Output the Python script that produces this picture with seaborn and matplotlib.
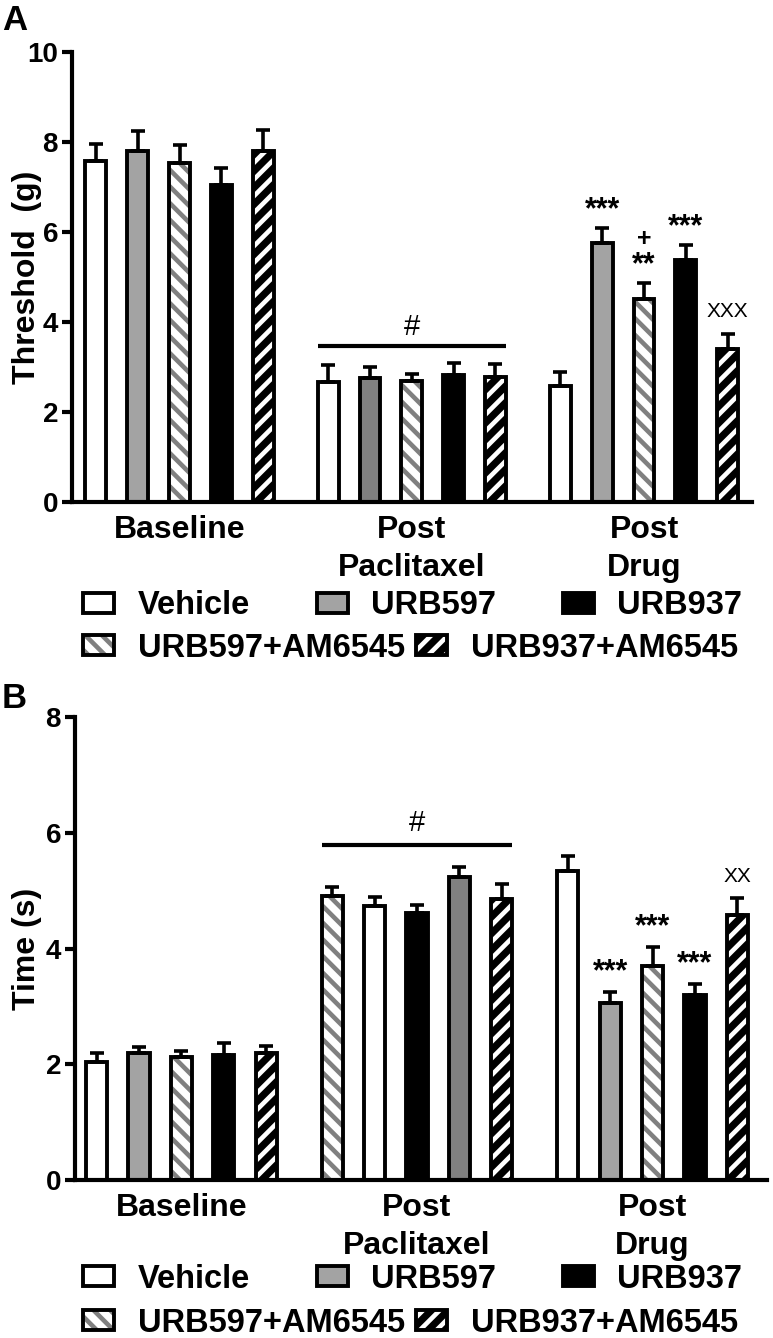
import matplotlib
matplotlib.use("Agg")
import matplotlib.pyplot as plt
from matplotlib.patches import Patch
from matplotlib.colors import to_rgba
import numpy as np
import pandas as pd
import seaborn as sns

# ------------------------------------------------------------------ data
phases = ["Baseline", "Post\nPaclitaxel", "Post\nDrug"]
slots = ["s0", "s1", "s2", "s3", "s4"]
treatments = ["Vehicle", "URB597", "URB597+AM6545", "URB937", "URB937+AM6545"]

# Panel A : mechanical threshold (g)
a_order_baseline = ["Vehicle", "URB597", "URB597+AM6545", "URB937", "URB937+AM6545"]
a_order_pac = ["Vehicle", "URB597", "URB597+AM6545", "URB937", "URB937+AM6545"]
a_order_drug = ["Vehicle", "URB597", "URB597+AM6545", "URB937", "URB937+AM6545"]
a_mean_baseline = [7.58, 7.80, 7.53, 7.04, 7.80]
a_sem_baseline = [0.38, 0.45, 0.41, 0.39, 0.46]
a_mean_pac = [2.66, 2.76, 2.68, 2.83, 2.78]
a_sem_pac = [0.38, 0.24, 0.17, 0.27, 0.28]
a_mean_drug = [2.57, 5.76, 4.51, 5.38, 3.40]
a_sem_drug = [0.31, 0.33, 0.35, 0.34, 0.33]
a_stars_drug = ["", "***", "**", "***", ""]
a_plus_drug = ["", "", "+", "", ""]
a_x_drug = ["", "", "", "", "XXX"]
a_hash_y = 3.47

# Panel B : latency time (s)
b_order_baseline = ["Vehicle", "URB597", "URB597+AM6545", "URB937", "URB937+AM6545"]
b_order_pac = ["URB597+AM6545", "Vehicle", "URB937", "URB597", "URB937+AM6545"]
b_order_drug = ["Vehicle", "URB597", "URB597+AM6545", "URB937", "URB937+AM6545"]
b_mean_baseline = [2.04, 2.20, 2.13, 2.16, 2.20]
b_sem_baseline = [0.16, 0.10, 0.10, 0.20, 0.12]
b_mean_pac = [4.91, 4.73, 4.61, 5.24, 4.86]
b_sem_pac = [0.16, 0.16, 0.15, 0.16, 0.26]
b_mean_drug = [5.34, 3.06, 3.70, 3.19, 4.58]
b_sem_drug = [0.26, 0.18, 0.32, 0.19, 0.29]
b_stars_drug = ["", "***", "***", "***", ""]
b_plus_drug = ["", "", "", "", ""]
b_x_drug = ["", "", "", "", "XX"]
b_hash_y = 5.79

urb597_gray = ["#a3a3a3", "#808080", "#a3a3a3"]

# ------------------------------------------------------------------ style
sns.set_theme(style="ticks")
plt.rcParams["font.family"] = ["Liberation Sans", "DejaVu Sans"]
plt.rcParams["font.weight"] = "bold"
plt.rcParams["hatch.linewidth"] = 3.3
for key in ["text.color", "axes.labelcolor", "xtick.color", "ytick.color",
            "axes.edgecolor"]:
    plt.rcParams[key] = "black"

EDGE_LW = 2.8


def set_hatch_color(p, color):
    if hasattr(p, "set_hatchcolor"):
        p.set_hatchcolor(color)
    else:
        p._hatch_color = to_rgba(color)


def style_patch(p, treatment, gray):
    p.set_edgecolor("black")
    p.set_linewidth(EDGE_LW)
    if treatment == "Vehicle":
        p.set_facecolor("white")
        p.set_hatch(None)
    elif treatment == "URB597":
        p.set_facecolor(gray)
        p.set_hatch(None)
    elif treatment == "URB937":
        p.set_facecolor("black")
        p.set_hatch(None)
    elif treatment == "URB597+AM6545":
        p.set_facecolor("white")
        p.set_hatch("\\\\")
        set_hatch_color(p, "#808080")
    elif treatment == "URB937+AM6545":
        p.set_facecolor("black")
        p.set_hatch("//")
        set_hatch_color(p, "white")


def build(orders, means, sems):
    rows = []
    for p, (order, m, s) in enumerate(zip(orders, means, sems)):
        for k, (t, mv, sv) in enumerate(zip(order, m, s)):
            rows.append(dict(phase=phases[p], slot=slots[k], treatment=t, mean=mv, sem=sv))
    return pd.DataFrame(rows)


def draw_panel(ax, df, ylim, yticks, ylabel, label_x, xlim, hash_y, stars,
               plus, xs, star_off, plus_off, x_off, hash_off):
    width, gap = 0.9, 0.5
    sns.barplot(data=df, x="phase", y="mean", hue="slot", order=phases,
                hue_order=slots, palette=["white"] * 5, width=width, gap=gap,
                errorbar=None, saturation=1, edgecolor="black",
                linewidth=EDGE_LW, legend=False, ax=ax)
    lookup = {(r.phase, r.slot): r for r in df.itertuples()}
    step = width / len(slots)
    info = {}
    for cont in ax.containers:
        for bar in cont:
            cx = bar.get_x() + bar.get_width() / 2
            p = int(round(cx))
            k = int(round((cx - p) / step + (len(slots) - 1) / 2))
            r = lookup[(phases[p], slots[k])]
            style_patch(bar, r.treatment, urb597_gray[p])
            info[(p, k)] = (cx, bar.get_x(), bar.get_width(), r.mean, r.sem)

    keys = sorted(info)
    cxs = np.array([info[k][0] for k in keys])
    ms = np.array([info[k][3] for k in keys])
    ss = np.array([info[k][4] for k in keys])
    ax.errorbar(cxs, ms, yerr=[np.zeros_like(ss), ss], fmt="none",
                ecolor="black", elinewidth=2.6, capsize=5.3, capthick=2.6,
                zorder=3)

    # significance line over the post paclitaxel group
    g = [info[(1, k)] for k in range(len(slots))]
    x0 = min(v[1] for v in g)
    x1 = max(v[1] + v[2] for v in g)
    ax.plot([x0, x1], [hash_y, hash_y], color="black", lw=3.0,
            solid_capstyle="butt", zorder=3)
    ax.annotate("#", xy=((x0 + x1) / 2, hash_y), xytext=(0, hash_off),
                textcoords="offset points", ha="center", va="baseline",
                fontsize=21, fontweight="normal")

    # markers over the post drug group
    for k in range(len(slots)):
        cx, _, _, m, s = info[(2, k)]
        top = m + s
        if stars[k]:
            ax.annotate(stars[k], xy=(cx, top), xytext=(0, star_off),
                        textcoords="offset points", ha="center",
                        va="baseline", fontsize=22, fontweight="bold")
        if plus[k]:
            ax.annotate(plus[k], xy=(cx, top), xytext=(0, plus_off),
                        textcoords="offset points", ha="center",
                        va="baseline", fontsize=18, fontweight="bold")
        if xs[k]:
            ax.annotate(xs[k], xy=(cx, top), xytext=(0, x_off),
                        textcoords="offset points", ha="center",
                        va="baseline", fontsize=15, fontweight="normal")

    ax.set_xlim(*xlim)
    ax.set_ylim(*ylim)
    ax.set_yticks(yticks)
    ax.set_yticklabels([str(t) for t in yticks])
    ax.set_xlabel("")
    ax.set_ylabel(ylabel, fontsize=23, fontweight="bold", color="black")
    ax.yaxis.set_label_coords(label_x, 0.5)
    for side in ["top", "right"]:
        ax.spines[side].set_visible(False)
    for side in ["left", "bottom"]:
        ax.spines[side].set_linewidth(3.0)
        ax.spines[side].set_color("black")
    ax.tick_params(axis="y", direction="out", length=7, width=3.0,
                   labelsize=20, pad=3, colors="black")
    ax.tick_params(axis="x", length=0, labelsize=23, pad=9, colors="black")
    for lbl in ax.get_xticklabels():
        lbl.set_fontweight("bold")
        lbl.set_linespacing(1.36)
    for lbl in ax.get_yticklabels():
        lbl.set_fontweight("bold")
    ax.set_facecolor("white")
    ax.grid(False)


def make_handle(t):
    p = Patch(facecolor="white", edgecolor="black", linewidth=EDGE_LW)
    style_patch(p, t, urb597_gray[0])
    return p


def add_legend(fig, x_px, y1_px, y2_px, W, H):
    row1 = ["Vehicle", "URB597", "URB937"]
    row2 = ["URB597+AM6545", "URB937+AM6545"]
    common = dict(loc="center left", frameon=False, handlelength=0.95,
                  handleheight=0.55, handletextpad=0.72, borderpad=0,
                  borderaxespad=0, labelcolor="black",
                  prop={"weight": "bold", "size": 23.5})
    fig.legend(handles=[make_handle(t) for t in row1], labels=row1,
               ncol=3, columnspacing=2.05,
               bbox_to_anchor=(x_px / W, 1 - y1_px / H), **common)
    fig.legend(handles=[make_handle(t) for t in row2], labels=row2,
               ncol=2, columnspacing=0.35,
               bbox_to_anchor=(x_px / W, 1 - y2_px / H), **common)


# ------------------------------------------------------------------ figure
W, H = 773, 1338
fig = plt.figure(figsize=(W / 100, H / 100), dpi=100)
fig.patch.set_facecolor("white")

dfA = build([a_order_baseline, a_order_pac, a_order_drug],
            [a_mean_baseline, a_mean_pac, a_mean_drug],
            [a_sem_baseline, a_sem_pac, a_sem_drug])
dfB = build([b_order_baseline, b_order_pac, b_order_drug],
            [b_mean_baseline, b_mean_pac, b_mean_drug],
            [b_sem_baseline, b_sem_pac, b_sem_drug])

axA = fig.add_axes([72 / W, 1 - 502 / H, 680 / W, 450 / H])
draw_panel(axA, dfA, (0, 10), [0, 2, 4, 6, 8, 10], "Threshold  (g)",
           (42 - 72) / 680, (-0.463, 2.465), a_hash_y, a_stars_drug,
           a_plus_drug, a_x_drug, star_off=7.0, plus_off=27, x_off=12.5,
           hash_off=8)

axB = fig.add_axes([75 / W, 1 - 1180 / H, 692 / W, 463 / H])
draw_panel(axB, dfB, (0, 8), [0, 2, 4, 6, 8], "Time (s)",
           (42 - 75) / 692, (-0.452, 2.486), b_hash_y, b_stars_drug,
           b_plus_drug, b_x_drug, star_off=9.0, plus_off=27, x_off=11.5,
           hash_off=10)

add_legend(fig, 83, 606, 648, W, H)
add_legend(fig, 83, 1279, 1323, W, H)

fig.text(2 / W, 1 - 30 / H, "A", fontsize=25, fontweight="bold",
         ha="left", va="baseline", color="black")
fig.text(2 / W, 1 - 708 / H, "B", fontsize=25, fontweight="bold",
         ha="left", va="baseline", color="black")

fig.savefig("out.png", dpi=100, facecolor="white")
